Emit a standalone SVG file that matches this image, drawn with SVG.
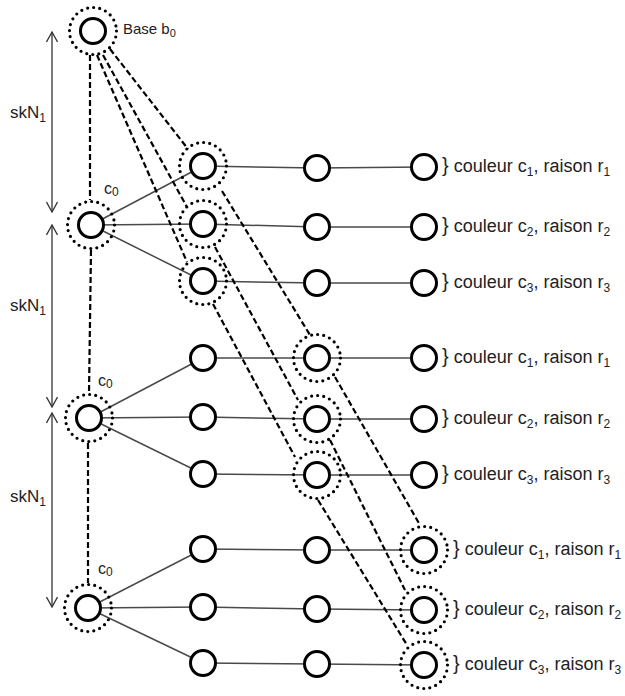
<svg xmlns="http://www.w3.org/2000/svg" width="625" height="696" viewBox="0 0 625 696">
  <style>
    .node { fill: #fff; stroke: #000; stroke-width: 3; }
    .ring { fill: none; stroke: #000; stroke-width: 3.2; stroke-linecap: round; stroke-dasharray: 0 6.15; }
    .edge { stroke: #4a4a4a; stroke-width: 1.5; fill: none; }
    .dash { stroke: #000; stroke-width: 2.2; stroke-dasharray: 6 3; fill: none; }
    .dim { stroke: #333; stroke-width: 1.3; fill: none; }
    .head { stroke: #333; stroke-width: 1.3; fill: none; }
    text { font-family: "Liberation Sans", Arial, sans-serif; fill: #222; }
    .lbl { font-size: 18px; }
    .brace { font-size: 20px; }
    .sub { font-size: 12px; }
  </style>
  <defs>
    <marker id="arr" viewBox="0 0 12 12" refX="11" refY="6" markerWidth="12" markerHeight="12" markerUnits="userSpaceOnUse" orient="auto-start-reverse">
      <path d="M1,0.5 L11,6 L1,11.5" class="head"/>
    </marker>
  </defs>
  <rect width="625" height="696" fill="#fff"/>

  <!-- skN1 dimension arrows -->
  <g id="dimensions">
    <line class="dim" x1="52" y1="32" x2="52" y2="212" marker-start="url(#arr)" marker-end="url(#arr)"/>
    <line class="dim" x1="52" y1="225" x2="52" y2="407" marker-start="url(#arr)" marker-end="url(#arr)"/>
    <line class="dim" x1="52" y1="413" x2="52" y2="607" marker-start="url(#arr)" marker-end="url(#arr)"/>
    <text x="10" y="118" style="font-size:17px">skN<tspan class="sub" dy="4">1</tspan></text>
    <text x="10" y="311" style="font-size:17px">skN<tspan class="sub" dy="4">1</tspan></text>
    <text x="10" y="502" style="font-size:17px">skN<tspan class="sub" dy="4">1</tspan></text>
  </g>

  <g id="connectors">
    <!-- solid links: left node to first column -->
    <line class="edge" x1="91" y1="225" x2="203" y2="166"/>
    <line class="edge" x1="91" y1="225" x2="203" y2="224"/>
    <line class="edge" x1="91" y1="225" x2="203" y2="281"/>
    <line class="edge" x1="89" y1="418" x2="203" y2="358"/>
    <line class="edge" x1="89" y1="418" x2="203" y2="417"/>
    <line class="edge" x1="89" y1="418" x2="203" y2="474"/>
    <line class="edge" x1="88" y1="608" x2="203" y2="549"/>
    <line class="edge" x1="88" y1="608" x2="203" y2="607"/>
    <line class="edge" x1="88" y1="608" x2="203" y2="663"/>
    <!-- solid links: rows -->
    <polyline class="edge" points="203,166 317,168 424,167"/>
    <polyline class="edge" points="203,224 317,227 424,227"/>
    <polyline class="edge" points="203,281 317,283 424,283"/>
    <polyline class="edge" points="203,358 317,358 424,358"/>
    <polyline class="edge" points="203,417 317,419 424,419"/>
    <polyline class="edge" points="203,474 317,475 424,475"/>
    <polyline class="edge" points="203,549 317,550 424,550"/>
    <polyline class="edge" points="203,607 317,609 424,610"/>
    <polyline class="edge" points="203,663 317,664 424,665"/>
    <!-- dashed: base chain -->
    <line class="dash" x1="90" y1="55" x2="90" y2="200"/>
    <line class="dash" x1="91" y1="250" x2="89" y2="393"/>
    <line class="dash" x1="88" y1="443" x2="88" y2="583"/>
    <!-- dashed: base to first column -->
    <line class="dash" x1="110" y1="49" x2="188" y2="149"/>
    <line class="dash" x1="103" y1="55" x2="187" y2="207"/>
    <line class="dash" x1="97" y1="55" x2="187" y2="262"/>
    <!-- dashed: first column to second column -->
    <line class="dash" x1="222" y1="191" x2="310" y2="335"/>
    <line class="dash" x1="215" y1="247" x2="298" y2="400"/>
    <line class="dash" x1="213" y1="304" x2="295" y2="457"/>
    <!-- dashed: second column to third column -->
    <line class="dash" x1="335" y1="377" x2="420" y2="525"/>
    <line class="dash" x1="330" y1="440" x2="405" y2="590"/>
    <line class="dash" x1="318" y1="500" x2="407" y2="645"/>
  </g>

  <g id="base">
    <circle class="ring" cx="93" cy="31" r="23.5"/>
    <circle class="node" cx="93" cy="31" r="12.5"/>
    <text x="123" y="34" style="font-size:15px">Base b<tspan style="font-size:11px" dy="3">0</tspan></text>
  </g>

  <g id="start1">
    <circle class="ring" cx="91" cy="225" r="23.5"/>
    <circle class="node" cx="91" cy="225" r="12.5"/>
    <text x="104" y="194" style="font-size:16px">c<tspan style="font-size:12px" dy="2">0</tspan></text>
  </g>
  <g id="start2">
    <circle class="ring" cx="89" cy="418" r="23.5"/>
    <circle class="node" cx="89" cy="418" r="12.5"/>
    <text x="98" y="386" style="font-size:16px">c<tspan style="font-size:12px" dy="2">0</tspan></text>
  </g>
  <g id="start3">
    <circle class="ring" cx="88" cy="608" r="23.5"/>
    <circle class="node" cx="88" cy="608" r="12.5"/>
    <text x="98" y="574" style="font-size:16px">c<tspan style="font-size:12px" dy="2">0</tspan></text>
  </g>

  <!-- group 1 -->
  <g id="g1-a1"><circle class="ring" cx="203" cy="166" r="23.5"/><circle class="node" cx="203" cy="166" r="12.5"/></g>
  <g id="g1-a2"><circle class="ring" cx="203" cy="224" r="23.5"/><circle class="node" cx="203" cy="224" r="12.5"/></g>
  <g id="g1-a3"><circle class="ring" cx="203" cy="281" r="23.5"/><circle class="node" cx="203" cy="281" r="12.5"/></g>
  <g id="g1-b1"><circle class="node" cx="317" cy="168" r="12.5"/></g>
  <g id="g1-b2"><circle class="node" cx="317" cy="227" r="12.5"/></g>
  <g id="g1-b3"><circle class="node" cx="317" cy="283" r="12.5"/></g>
  <g id="g1-c1"><circle class="node" cx="424" cy="167" r="12.5"/>
    <text class="lbl" x="442" y="172"><tspan class="brace">}</tspan> couleur c<tspan class="sub" dy="4">1</tspan><tspan dy="-4">, raison r</tspan><tspan class="sub" dy="4">1</tspan></text></g>
  <g id="g1-c2"><circle class="node" cx="424" cy="227" r="12.5"/>
    <text class="lbl" x="442" y="232"><tspan class="brace">}</tspan> couleur c<tspan class="sub" dy="4">2</tspan><tspan dy="-4">, raison r</tspan><tspan class="sub" dy="4">2</tspan></text></g>
  <g id="g1-c3"><circle class="node" cx="424" cy="283" r="12.5"/>
    <text class="lbl" x="442" y="288"><tspan class="brace">}</tspan> couleur c<tspan class="sub" dy="4">3</tspan><tspan dy="-4">, raison r</tspan><tspan class="sub" dy="4">3</tspan></text></g>

  <!-- group 2 -->
  <g id="g2-a1"><circle class="node" cx="203" cy="358" r="12.5"/></g>
  <g id="g2-a2"><circle class="node" cx="203" cy="417" r="12.5"/></g>
  <g id="g2-a3"><circle class="node" cx="203" cy="474" r="12.5"/></g>
  <g id="g2-b1"><circle class="ring" cx="317" cy="358" r="23.5"/><circle class="node" cx="317" cy="358" r="12.5"/></g>
  <g id="g2-b2"><circle class="ring" cx="317" cy="419" r="23.5"/><circle class="node" cx="317" cy="419" r="12.5"/></g>
  <g id="g2-b3"><circle class="ring" cx="317" cy="475" r="23.5"/><circle class="node" cx="317" cy="475" r="12.5"/></g>
  <g id="g2-c1"><circle class="node" cx="424" cy="358" r="12.5"/>
    <text class="lbl" x="442" y="363"><tspan class="brace">}</tspan> couleur c<tspan class="sub" dy="4">1</tspan><tspan dy="-4">, raison r</tspan><tspan class="sub" dy="4">1</tspan></text></g>
  <g id="g2-c2"><circle class="node" cx="424" cy="419" r="12.5"/>
    <text class="lbl" x="442" y="424"><tspan class="brace">}</tspan> couleur c<tspan class="sub" dy="4">2</tspan><tspan dy="-4">, raison r</tspan><tspan class="sub" dy="4">2</tspan></text></g>
  <g id="g2-c3"><circle class="node" cx="424" cy="475" r="12.5"/>
    <text class="lbl" x="442" y="480"><tspan class="brace">}</tspan> couleur c<tspan class="sub" dy="4">3</tspan><tspan dy="-4">, raison r</tspan><tspan class="sub" dy="4">3</tspan></text></g>

  <!-- group 3 -->
  <g id="g3-a1"><circle class="node" cx="203" cy="549" r="12.5"/></g>
  <g id="g3-a2"><circle class="node" cx="203" cy="607" r="12.5"/></g>
  <g id="g3-a3"><circle class="node" cx="203" cy="663" r="12.5"/></g>
  <g id="g3-b1"><circle class="node" cx="317" cy="550" r="12.5"/></g>
  <g id="g3-b2"><circle class="node" cx="317" cy="609" r="12.5"/></g>
  <g id="g3-b3"><circle class="node" cx="317" cy="664" r="12.5"/></g>
  <g id="g3-c1"><circle class="ring" cx="424" cy="550" r="23.5"/><circle class="node" cx="424" cy="550" r="12.5"/>
    <text class="lbl" x="453" y="555"><tspan class="brace">}</tspan> couleur c<tspan class="sub" dy="4">1</tspan><tspan dy="-4">, raison r</tspan><tspan class="sub" dy="4">1</tspan></text></g>
  <g id="g3-c2"><circle class="ring" cx="424" cy="610" r="23.5"/><circle class="node" cx="424" cy="610" r="12.5"/>
    <text class="lbl" x="453" y="615"><tspan class="brace">}</tspan> couleur c<tspan class="sub" dy="4">2</tspan><tspan dy="-4">, raison r</tspan><tspan class="sub" dy="4">2</tspan></text></g>
  <g id="g3-c3"><circle class="ring" cx="424" cy="665" r="23.5"/><circle class="node" cx="424" cy="665" r="12.5"/>
    <text class="lbl" x="453" y="670"><tspan class="brace">}</tspan> couleur c<tspan class="sub" dy="4">3</tspan><tspan dy="-4">, raison r</tspan><tspan class="sub" dy="4">3</tspan></text></g>
</svg>
